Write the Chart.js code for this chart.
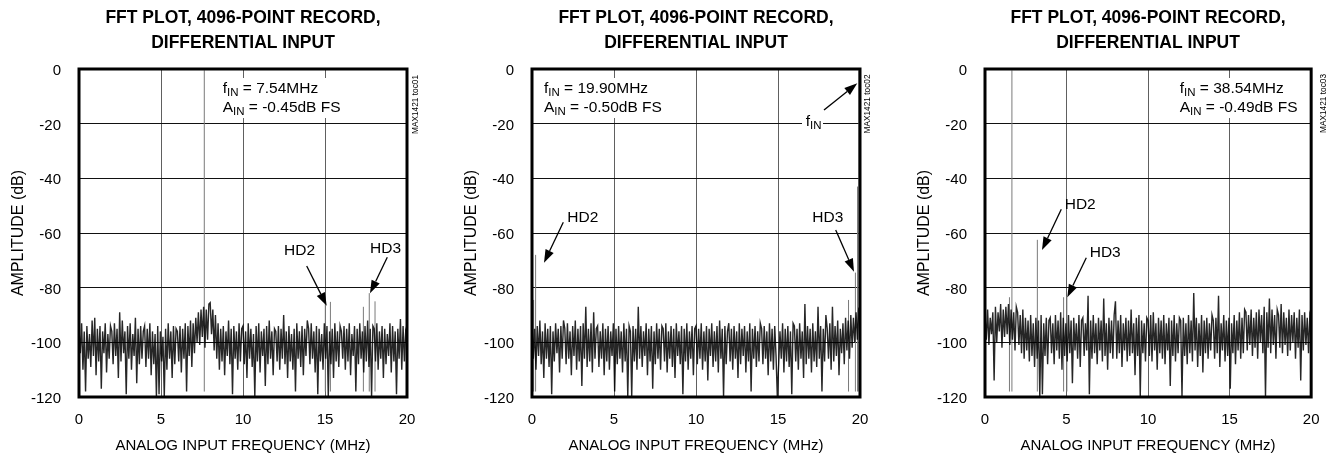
<!DOCTYPE html>
<html><head><meta charset="utf-8">
<script src="https://cdn.jsdelivr.net/npm/chart.js@4/dist/chart.umd.min.js"></script>
<style>
html,body{margin:0;padding:0;background:#fff;width:1333px;height:456px;overflow:hidden}
canvas{position:absolute;top:0}
</style></head><body>
<canvas id="c1" width="444" height="456" style="left:0px"></canvas>
<canvas id="c2" width="444" height="456" style="left:453px"></canvas>
<canvas id="c3" width="427" height="456" style="left:906px"></canvas>
<script>
const FONT = "'Liberation Sans', Arial, Helvetica, sans-serif";
const titleLines = ['FFT PLOT, 4096-POINT RECORD,', 'DIFFERENTIAL INPUT'];
const xTitle = 'ANALOG INPUT FREQUENCY (MHz)';
const yTitle = 'AMPLITUDE (dB)';
const xTickValues = [0, 5, 10, 15, 20];
const yTickValues = [0, -20, -40, -60, -80, -100, -120];
const binStepMHz = 0.08;

// Panel 1: fIN = 7.54MHz noise floor (one value per 0.08 MHz bin)
const noise1 = [
-95,-104,-93,-110,-96,-118,-94,-106,-97,-109,-92,-105,-91,-112,-95,-107,-94,-117,-96,-104,-93,-111,-97,-106,-94,
-96,-108,-93,-105,-95,-113,-89,-107,-92,-104,-96,-119,-94,-106,-93,-110,-97,-105,-91,-115,-95,-108,-94,-106,-96,
-94,-109,-95,-106,-93,-112,-96,-108,-97,-120,-94,-119,-96,-107,-98,-120,-95,-110,-93,-106,-96,-113,-94,-108,-95,
-96,-107,-94,-111,-95,-106,-93,-118,-94,-105,-92,-109,-93,-104,-91,-100,-89,-101,-88,-98,-87,-102,-88,-99,-86,
-85.5,-97,-88,-103,-90,-106,-93,-110,-95,-107,-94,-112,-96,-105,-92,-108,-95,-119,-94,-106,-96,-110,-93,-107,-95,
-94,-108,-96,-113,-93,-106,-95,-109,-97,-120,-94,-107,-93,-111,-96,-105,-95,-116,-94,-108,-92,-106,-96,-112,-95,
-96,-107,-94,-110,-95,-106,-90,-108,-96,-113,-94,-107,-97,-110,-95,-118,-93,-106,-96,-109,-94,-112,-95,-105,-92,
-95,-108,-93,-106,-96,-111,-94,-119,-95,-107,-97,-110,-93,-106,-94,-120,-96,-108,-95,-113,-93,-107,-96,-109,-94,
-96,-106,-94,-110,-95,-107,-93,-112,-97,-105,-94,-118,-95,-108,-93,-106,-96,-111,-94,-107,-92,-109,-95,-120,-94,
-95,-107,-93,-110,-96,-106,-94,-113,-95,-108,-97,-105,-93,-111,-94,-107,-96,-119,-95,-106,-91.5,-110,-94,-107,-96,
-98];
const spurs1Freq = [7.64, 15.02, 15.33, 17.34, 17.70, 18.05];
const spurs1Amp  = [-0.45, -85.5, -85.2, -87, -82, -85];

// Panel 2: fIN = 19.90MHz
const noise2 = [
-93,-106,-95,-110,-94,-105,-92,-108,-96,-113,-93,-106,-95,-109,-94,-119,-96,-107,-93,-104,-95,-111,-94,-106,-92,
-95,-108,-93,-106,-96,-112,-94,-105,-92,-110,-95,-107,-94,-116,-93,-106,-87,-109,-95,-107,-93,-111,-89,-106,-95,
-94,-109,-96,-106,-93,-112,-95,-107,-94,-110,-96,-105,-93,-118,-95,-108,-94,-106,-96,-111,-93,-107,-95,-120,-94,
-96,-120,-94,-107,-95,-110,-87,-106,-94,-109,-96,-105,-93,-112,-95,-107,-94,-117,-96,-108,-93,-106,-95,-110,-94,
-95,-107,-93,-111,-96,-106,-94,-109,-95,-113,-93,-105,-96,-108,-94,-119,-95,-107,-93,-110,-96,-106,-94,-112,-95,
-94,-108,-95,-106,-93,-110,-96,-107,-94,-114,-95,-105,-93,-109,-96,-107,-94,-111,-92,-106,-95,-120,-94,-108,-96,
-93,-107,-95,-110,-94,-106,-96,-113,-93,-108,-95,-105,-94,-111,-96,-107,-93,-118,-95,-106,-94,-109,-96,-107,-93,
-95,-108,-94,-106,-96,-112,-93,-107,-95,-110,-94,-105,-120,-108,-96,-106,-93,-111,-95,-107,-94,-109,-96,-119,-93,
-94,-107,-95,-110,-93,-106,-96,-113,-86,-108,-94,-106,-95,-111,-93,-107,-96,-109,-87,-106,-94,-118,-95,-107,-90,
-95,-106,-93,-110,-87,-107,-94,-105,-92,-112,-95,-104,-93,-108,-91,-103,-92,-106,-90,-102,-91,-100,-89,-99,-88,
-89];
const spurs2Freq = [0.10, 0.22, 19.30, 19.72, 19.85, 19.93];
const spurs2Amp  = [-84.5, -68, -84.5, -74.5, -43, -0.5];

// Panel 3: fIN = 38.54MHz
const noise3 = [
-90,-99,-88,-101,-91,-97,-89,-114,-87,-100,-89,-96,-86,-102,-88,-98,-87,-97,-86,-101,-88,-99,-89,-103,-87,
-89,-101,-90,-104,-88,-106,-91,-103,-92,-107,-90,-105,-93,-109,-91,-106,-92,-120,-90,-119,-93,-105,-91,-108,-92,
-91,-104,-93,-108,-90,-103,-92,-106,-89,-110,-91,-105,-93,-107,-90,-104,-92,-115,-91,-103,-93,-106,-90,-109,-92,
-91,-105,-93,-103,-83,-119,-92,-106,-90,-104,-93,-108,-91,-103,-92,-107,-84,-105,-93,-110,-91,-104,-92,-106,-90,
-85,-106,-92,-104,-90,-109,-93,-103,-91,-107,-92,-105,-88,-104,-93,-112,-91,-105,-90,-120,-92,-104,-93,-107,-91,
-92,-105,-90,-107,-89,-103,-93,-110,-91,-104,-92,-106,-90,-108,-93,-103,-91,-116,-92,-105,-90,-107,-93,-104,-91,
-92,-120,-91,-105,-93,-108,-90,-104,-92,-107,-82,-103,-91,-109,-93,-105,-90,-111,-92,-104,-91,-106,-93,-103,-90,
-92,-106,-91,-104,-83,-109,-93,-103,-90,-107,-92,-105,-91,-117,-93,-104,-90,-108,-92,-103,-89,-106,-91,-104,-88,
-89,-103,-90,-101,-88,-105,-91,-102,-89,-106,-88,-100,-90,-104,-87,-120,-89,-102,-84,-104,-88,-101,-90,-106,-88,
-90,-102,-86,-104,-89,-101,-91,-105,-88,-103,-90,-100,-89,-106,-91,-102,-88,-114,-90,-103,-89,-101,-91,-104,-90,
-92];
const spurs3Freq = [1.50, 1.65, 3.21, 4.82, 5.02];
const spurs3Amp  = [-83.5, -0.49, -62.5, -83.5, -83];

const spurBase = -118;

const panels = [
  { id:'c1', noise:noise1, spurF:spurs1Freq, spurA:spurs1Amp, padRight:37,
    fin:'7.54MHz', ain:'-0.45dB FS', code:'MAX1421 toc01',
    info:[143.7, 23.7, 42.7], boxes:[[139, 9, 129, 40]],
    labels:[['HD2', 205, 186], ['HD3', 291, 184.3]],
    arrows:[[227.7,197,247.7,236.7],[308.3,188.3,291,224.3]], codePos:[337, 35.5] },
  { id:'c2', noise:noise2, spurF:spurs2Freq, spurA:spurs2Amp, padRight:37,
    fin:'19.90MHz', ain:'-0.50dB FS', code:'MAX1421 toc02',
    info:[12, 23.7, 42.7], boxes:[[8, 9, 120, 40],[270, 44, 21, 17]],
    labels:[['HD2', 35.3, 152.7], ['HD3', 280.3, 152.7]], finLabel:[273.7, 57],
    arrows:[[292,41,325.3,14.3],[31.3,153.3,12,193.7],[303.7,161,322,202.7]], codePos:[336, 35] },
  { id:'c3', noise:noise3, spurF:spurs3Freq, spurA:spurs3Amp, padRight:20,
    fin:'38.54MHz', ain:'-0.49dB FS', code:'MAX1421 toc03',
    info:[194.7, 23.7, 42.7], boxes:[[190, 9, 131, 40]],
    labels:[['HD2', 79.7, 140.3], ['HD3', 104.7, 187.7]],
    arrows:[[76.3,140.3,57,181],[101.3,188.7,82.3,228.3]], codePos:[339, 34.5] }
];

function drawArrow(ctx, x1, y1, x2, y2) {
  const ang = Math.atan2(y2 - y1, x2 - x1);
  const L = 13, W = 4.5;
  const bx = x2 - L * Math.cos(ang), by = y2 - L * Math.sin(ang);
  ctx.beginPath(); ctx.moveTo(x1, y1); ctx.lineTo(bx, by);
  ctx.lineWidth = 1.3; ctx.strokeStyle = '#000'; ctx.stroke();
  ctx.beginPath(); ctx.moveTo(x2, y2);
  ctx.lineTo(bx + W * Math.sin(ang), by - W * Math.cos(ang));
  ctx.lineTo(bx - W * Math.sin(ang), by + W * Math.cos(ang));
  ctx.closePath(); ctx.fillStyle = '#000'; ctx.fill();
}
function subText(ctx, x, y, main, sub, rest, size) {
  ctx.font = size + 'px ' + FONT; ctx.fillText(main, x, y); x += ctx.measureText(main).width;
  ctx.font = (size * 0.74) + 'px ' + FONT; ctx.fillText(sub, x, y + 3); x += ctx.measureText(sub).width;
  ctx.font = size + 'px ' + FONT; ctx.fillText(rest, x, y);
}

function annotPlugin(p) {
  return {
    id: 'annot_' + p.id,
    beforeDatasetsDraw(chart) {
      const {ctx, chartArea: a} = chart;
      ctx.save(); ctx.fillStyle = '#fff';
      p.boxes.forEach(b => ctx.fillRect(a.left + b[0], a.top + b[1], b[2], b[3]));
      ctx.restore();
    },
    afterDraw(chart) {
      const {ctx, chartArea: a} = chart;
      ctx.save();
      ctx.strokeStyle = '#000'; ctx.lineWidth = 3;
      ctx.strokeRect(a.left, a.top, a.right - a.left, a.bottom - a.top);
      ctx.fillStyle = '#000'; ctx.textAlign = 'left'; ctx.textBaseline = 'alphabetic';
      subText(ctx, a.left + p.info[0], a.top + p.info[1], 'f', 'IN', ' = ' + p.fin, 15.5);
      subText(ctx, a.left + p.info[0], a.top + p.info[2], 'A', 'IN', ' = ' + p.ain, 15.5);
      if (p.finLabel) subText(ctx, a.left + p.finLabel[0], a.top + p.finLabel[1], 'f', 'IN', '', 15.5);
      ctx.font = '15.5px ' + FONT;
      p.labels.forEach(l => ctx.fillText(l[0], a.left + l[1], a.top + l[2]));
      p.arrows.forEach(r => drawArrow(ctx, a.left + r[0], a.top + r[1], a.left + r[2], a.top + r[3]));
      ctx.translate(a.left + p.codePos[0], a.top + p.codePos[1]);
      ctx.rotate(-Math.PI / 2);
      ctx.font = '8.3px ' + FONT; ctx.textAlign = 'center'; ctx.textBaseline = 'middle';
      ctx.fillStyle = '#000';
      ctx.fillText(p.code, 0, 0);
      ctx.restore();
    }
  };
}

function makeChart(p) {
  const noisePts = p.noise.map((v, i) => ({x: Math.round(i * binStepMHz * 100) / 100, y: v}));
  const spurPts = [];
  p.spurF.forEach((f, i) => { spurPts.push({x: f, y: spurBase}, {x: f, y: p.spurA[i]}, {x: f, y: null}); });
  new Chart(document.getElementById(p.id), {
    type: 'line',
    data: { datasets: [
      { label: 'noise', data: noisePts, borderColor: 'rgba(0,0,0,0.85)', borderWidth: 1.4, pointRadius: 0, tension: 0 },
      { label: 'spurs', data: spurPts, borderColor: '#7a7a7a', borderWidth: 1, pointRadius: 0, spanGaps: false }
    ]},
    options: {
      responsive: false, animation: false, devicePixelRatio: 1,
      layout: { padding: { left: 0, right: p.padRight, top: 0, bottom: 0 } },
      plugins: {
        legend: { display: false }, tooltip: { enabled: false },
        title: { display: true, text: titleLines, fullSize: false, color: '#000',
          font: { family: FONT, size: 17.5, weight: 'bold', lineHeight: 25 / 17.5 },
          padding: { top: 5.8, bottom: 13.2 } }
      },
      scales: {
        x: { type: 'linear', min: 0, max: 20,
          afterBuildTicks: s => { s.ticks = xTickValues.map(v => ({ value: v })); },
          afterFit: s => { s.height = 59; },
          grid: { color: '#606060', lineWidth: 1, drawTicks: false }, border: { display: false },
          ticks: { color: '#000', font: { family: FONT, size: 15 }, padding: 13.5, maxRotation: 0, autoSkip: false, callback: v => String(v) },
          title: { display: true, text: xTitle, color: '#000', font: { family: FONT, size: 15 }, padding: { top: 0, bottom: 1 } } },
        y: { type: 'linear', min: -120, max: 0,
          afterBuildTicks: s => { s.ticks = yTickValues.map(v => ({ value: v })); },
          afterFit: s => { s.width = 79; },
          grid: { color: '#111', lineWidth: 1, drawTicks: false }, border: { display: false },
          ticks: { color: '#000', font: { family: FONT, size: 15 }, padding: 18, labelOffset: 2, callback: v => String(v) },
          title: { display: true, text: yTitle, color: '#000', font: { family: FONT, size: 16 }, padding: { top: 9.4, bottom: 0 } } }
      }
    },
    plugins: [annotPlugin(p)]
  });
}
panels.forEach(makeChart);
</script>
</body></html>
